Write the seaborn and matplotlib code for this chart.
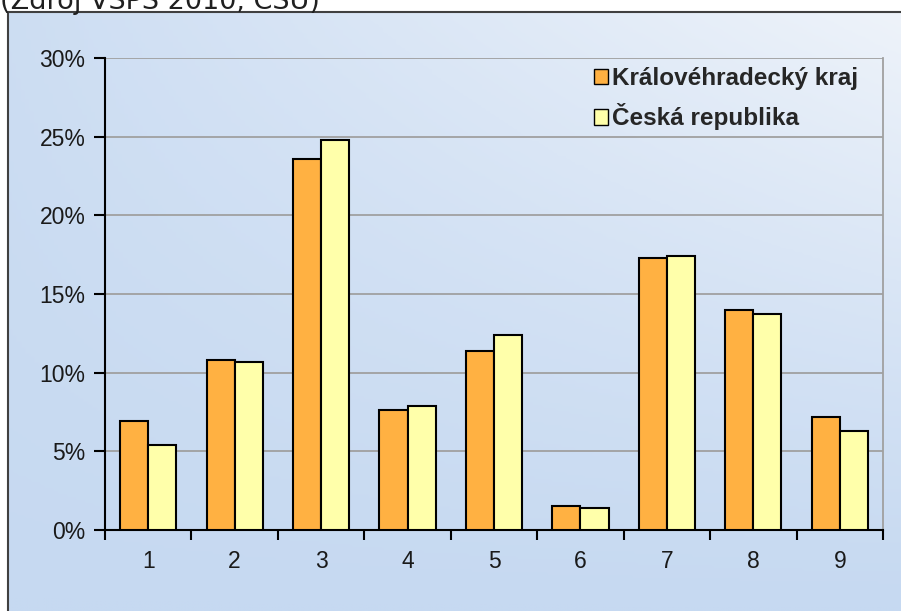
import numpy as np
import pandas as pd
import matplotlib
matplotlib.use("Agg")
import matplotlib.pyplot as plt
import seaborn as sns
from matplotlib.colors import LinearSegmentedColormap
from matplotlib.lines import Line2D

# data (share in %)
categories = ["1", "2", "3", "4", "5", "6", "7", "8", "9"]
kraj = [6.9, 10.8, 23.6, 7.6, 11.4, 1.5, 17.3, 14.0, 7.2]
cr = [5.4, 10.7, 24.8, 7.9, 12.4, 1.4, 17.4, 13.7, 6.3]
series = ["Královéhradecký kraj", "Česká republika"]
y_ticks = [0, 5, 10, 15, 20, 25, 30]

df = pd.DataFrame({
    "kategorie": categories * 2,
    "podil": kraj + cr,
    "oblast": [series[0]] * len(categories) + [series[1]] * len(categories),
})

sns.set_style("white")
plt.rcParams["font.family"] = ["Liberation Sans", "DejaVu Sans"]

fig = plt.figure(figsize=(9.01, 6.11), dpi=100)

# gradient background inside the outer frame
bg = fig.add_axes([8 / 901, 0, 1 - 8 / 901, 1 - 12 / 611], zorder=-1)
xx, yy = np.meshgrid(np.linspace(0, 1, 200), np.linspace(0, 1, 200))
grad = np.clip(0.75 * xx * (1 - yy) ** 1.2 + 0.25 * (1 - yy) * 0.6, 0, 1)
cmap = LinearSegmentedColormap.from_list("bg", ["#c6d9f1", "#eef3fa"])
bg.imshow(grad, cmap=cmap, aspect="auto", extent=[0, 1, 0, 1], origin="upper")
bg.axis("off")

# outer frame (left and top edges visible)
fig.add_artist(Line2D([8 / 901, 8 / 901], [0, 1 - 12 / 611], color="#404040", lw=1.5))
fig.add_artist(Line2D([8 / 901, 1], [1 - 12 / 611, 1 - 12 / 611], color="#404040", lw=1.5))

# source note, cut off at the top edge like in the original
fig.text(0.0, 1 - 9 / 611, "(Zdroj VŠPS 2010, ČSÚ)", family="DejaVu Sans",
         fontsize=19.5, va="baseline", ha="left", color="#202020")

ax = fig.add_axes([105 / 901, 1 - 530 / 611, (883 - 105) / 901, (530 - 58) / 611])
ax.set_facecolor("none")

sns.barplot(data=df, x="kategorie", y="podil", hue="oblast",
            palette=["#ffb142", "#ffffaa"], saturation=1, width=0.65, gap=0,
            edgecolor="black", linewidth=1.5, ax=ax, zorder=3)

ax.set_ylim(0, 30)
ax.set_xlim(-0.5, len(categories) - 0.5)
ax.set_yticks(y_ticks)
ax.set_yticklabels([f"{t}%" for t in y_ticks])
ax.set_xticks(range(len(categories)))
ax.set_xticks(np.arange(-0.5, len(categories), 1), minor=True)
ax.set_xticklabels(categories)
ax.set_xlabel("")
ax.set_ylabel("")
ax.grid(axis="y", color="#a0a0a0", lw=1.3, zorder=0)
ax.set_axisbelow(True)

for side in ["left", "bottom"]:
    ax.spines[side].set_color("black")
    ax.spines[side].set_linewidth(1.5)
ax.spines["top"].set_visible(False)
ax.spines["right"].set_color("#a0a0a0")
ax.spines["right"].set_linewidth(1.3)

ax.tick_params(axis="y", which="major", left=True, length=8, width=1.5,
               color="black", labelsize=16.5, pad=6, labelcolor="#1a1a1a")
ax.tick_params(axis="x", which="major", bottom=False, labelsize=16.5, pad=11,
               labelcolor="#1a1a1a")
ax.tick_params(axis="x", which="minor", bottom=True, length=7, width=1.5,
               color="black")

leg = ax.legend(loc="upper right", frameon=False,
                prop={"weight": "bold", "size": 17.5},
                handlelength=0.6, handleheight=0.6, handletextpad=0.15,
                labelspacing=0.55, borderaxespad=0.3, bbox_to_anchor=(0.99, 1.017))
for h in leg.legend_handles:
    h.set_edgecolor("black")
    h.set_linewidth(1.0)

fig.savefig("out.png", dpi=100)
